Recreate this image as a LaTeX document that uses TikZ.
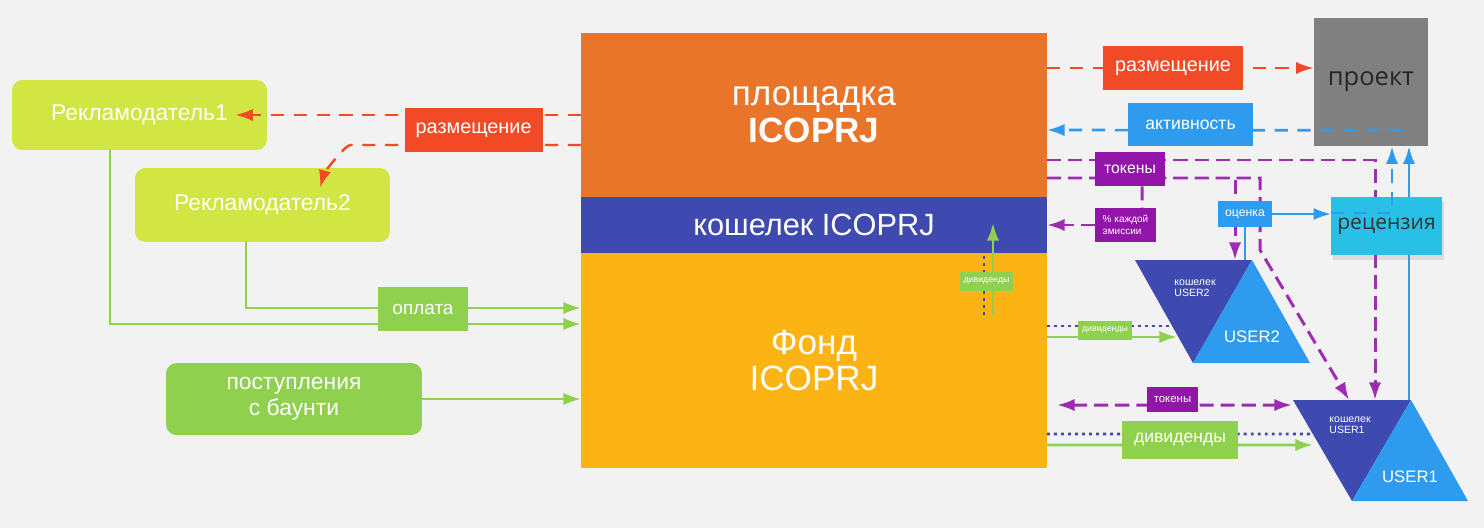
\documentclass[tikz,border=0pt]{standalone}
\usepackage{fontspec}
\setmainfont{Liberation Sans}
\newfontfamily\opensans{Open Sans}
\usepackage{xcolor}
\usepackage{tikz}
\usetikzlibrary{arrows.meta,calc,shadows}

\definecolor{bgc}{HTML}{F2F2F2}
\definecolor{orng}{HTML}{E8752A}
\definecolor{wblue}{HTML}{3F4AB0}
\definecolor{fyel}{HTML}{FCB415}
\definecolor{lime}{HTML}{D1E543}
\definecolor{grn}{HTML}{8FD14F}
\definecolor{redc}{HTML}{F24A27}
\definecolor{ublue}{HTML}{2E9BEE}
\definecolor{purp}{HTML}{9214A8}
\definecolor{cyanc}{HTML}{29C0E8}
\definecolor{grayc}{HTML}{808080}

\begin{document}
\begin{tikzpicture}[x=0.02cm, y=-0.02cm,
  >={Latex[length=10pt,width=7pt]},
  block/.style={rectangle, inner sep=0pt, outer sep=0pt, minimum width=9.32cm, text=white, align=center, font=\fontsize{20}{21}\selectfont},
  client/.style={rectangle, rounded corners=6pt, fill=lime, text=white, minimum width=5.1cm, align=center, font=\fontsize{13}{15}\selectfont},
  lbl/.style={rectangle, inner sep=0pt, text=white, align=center},
  pay/.style={->, line width=1.6pt, draw=grn},
  redline/.style={->, line width=1.4pt, draw=redc, dash pattern=on 7.5pt off 5.5pt},
  bluedash/.style={->, line width=1.5pt, draw=ublue, dash pattern=on 7.5pt off 5.5pt},
  blueline/.style={->, line width=1.5pt, draw=ublue},
  purdash/.style={->, line width=1.7pt, draw=purp!90, dash pattern=on 8pt off 4pt},
  divdot/.style={line width=1.6pt, draw=wblue, dash pattern=on 1.6pt off 2.4pt}
]
\useasboundingbox[fill=bgc] (0,0) rectangle (1484,528);

\node[block, fill=orng, minimum height=3.28cm] (plat) at (814,115) {площадка\\\textbf{ICOPRJ}};
\node[block, fill=wblue, minimum height=1.12cm, font=\fontsize{17.5}{19}\selectfont] (wal) at (814,225) {кошелек ICOPRJ};
\node[block, fill=fyel, minimum height=4.3cm] (fund) at (814,360.5) {Фонд\\ICOPRJ};

\node[client, minimum height=1.4cm] (rek1) at (139.5,115) {Рекламодатель1};
\node[client, minimum height=1.48cm] (rek2) at (262.5,205) {Рекламодатель2};
\node[client, fill=grn, minimum width=5.12cm, minimum height=1.44cm] (bounty) at (294,399) {поступления\\с баунти};

\coordinate (u2) at (1135,260);
\coordinate (u1) at (1293,400);
\fill[wblue] (u2) -- ++(117,0) -- ++(-59,103) -- cycle;
\fill[ublue] ($(u2)+(117,0)$) -- ++(-59,103) -- ++(117,0) -- cycle;
\fill[wblue] (u1) -- ++(118,0) -- ++(-59,101) -- cycle;
\fill[ublue] ($(u1)+(118,0)$) -- ++(-59,101) -- ++(116,0) -- cycle;
\node[lbl, align=left, font=\fontsize{6}{6.5}\selectfont] (w2) at (1195,288) {кошелек\\USER2};
\node[lbl, font=\fontsize{9.5}{10}\selectfont] (n2) at (1252,337) {USER2};
\node[lbl, align=left, font=\fontsize{6}{6.5}\selectfont] (w1) at (1350,425) {кошелек\\USER1};
\node[lbl, font=\fontsize{9.5}{10}\selectfont] (n1) at (1410,477) {USER1};

\draw[pay] ($(rek1.south)+(-29.5,0)$) |- ($(fund.west)+(0,-36.5)$);
\draw[pay] ($(rek2.south)+(-16.5,0)$) |- ($(fund.west)+(0,-52.5)$);
\draw[pay] (bounty.east) -- (bounty.east -| fund.west);

\draw[redline] (plat.west) -- ($(rek1.east)+(-32,0)$);
\draw[redline] ($(plat.west)+(0,30)$) -- ++(-231,0) .. controls +(-7,2) and +(4,-14) .. ($(rek2.north)+(57.5,20)$);

\node[lbl, fill=grn, minimum width=1.8cm, minimum height=0.88cm, font=\fontsize{10.8}{12}\selectfont] (pay) at (423,309) {оплата};
\node[lbl, fill=redc, minimum width=2.76cm, minimum height=0.88cm, font=\fontsize{11.3}{12}\selectfont] (rz1) at (473.6,130) {размещение};

\node[rectangle, fill=grayc, minimum width=2.28cm, minimum height=2.56cm, text=black!85, font=\opensans\fontsize{14.5}{15}\selectfont] (proj) at (1371,82) {проект};
\draw[redline] ($(plat.east)+(0,-47)$) -- ($(proj.west)+(0,-14)$);
\node[lbl, fill=redc, minimum width=2.8cm, minimum height=0.88cm, font=\fontsize{11.3}{12}\selectfont] (rz2) at (1173,68) {размещение};

\draw[bluedash] ($(proj.south)+(31,-16)$) -- ($(plat.east)+(0,15)$);
\node[lbl, fill=ublue, minimum width=2.5cm, minimum height=0.86cm, font=\fontsize{10}{11}\selectfont] (act) at (1190.5,124.5) {активность};

\draw[purdash] ($(plat.east)+(0,45)$) -| ($(u1)+(82,0)$);
\draw[purdash] ($(plat.east)+(0,63)$) -| ($(u2)+(100,0)$);
\draw[purdash] ($(plat.east)+(0,63)$) -| ($(u2)+(125,-10)$) -- ($(u1)+(56,0)$);
\draw[blueline] ($(u1)+(116,0)$) -- ($(proj.south)+(38,0)$);

\node[lbl, fill=purp, minimum width=1.4cm, minimum height=0.68cm, font=\fontsize{9}{10}\selectfont] (tok) at (1130,169) {токены};
\node[lbl, fill=purp, align=left, minimum width=1.22cm, minimum height=0.68cm, font=\fontsize{5.7}{7}\selectfont] (emis) at (1125.5,225) {\% каждой\\эмиссии};
\draw[purdash, -] ($(tok.south)+(12,0)$) -- ($(emis.north)+(16.5,0)$);
\draw[purdash] (emis.west) -- (emis.west -| plat.east);

\node[lbl, fill=ublue, minimum width=1.08cm, minimum height=0.52cm, font=\fontsize{7}{8}\selectfont] (rate) at (1245,214) {оценка};
\draw[blueline, -] (rate.south) -- (rate.south |- u2);
\node[rectangle, fill=cyanc, minimum width=2.14cm, minimum height=1.16cm, text=black!80, font=\opensans\fontsize{12}{13}\selectfont,
  drop shadow={opacity=0.2, shadow xshift=0.04cm, shadow yshift=-0.1cm}] (rec) at (1386.5,226) {рецензия};
\draw[blueline] (rate.east) -- (rate.east -| rec.west);
\draw[bluedash] ($(rec.west)+(0,-13)$) -| ($(proj.south)+(21,0)$);

\draw[divdot] ($(fund.east)+(0,-34.5)$) -- ($(u2)+(37,66)$);
\draw[pay] ($(fund.east)+(0,-23.5)$) -- ($(u2)+(42,77)$);
\node[lbl, fill=grn, minimum width=1.08cm, minimum height=0.38cm, font=\fontsize{5}{6}\selectfont] (divs) at (1105,330.5) {дивиденды};

\draw[purdash, <->] ($(fund.east)+(10,44.5)$) -- ($(u1)+(-1,5)$);
\node[lbl, fill=purp, minimum width=1.02cm, minimum height=0.5cm, font=\fontsize{6.5}{7}\selectfont] (tok2) at (1172.5,399.5) {токены};

\draw[divdot] ($(fund.east)+(0,73.5)$) -- ($(u1)+(22,34)$);
\draw[pay] ($(fund.east)+(0,84.5)$) -- ($(u1)+(20,45)$);
\node[lbl, fill=grn, minimum width=2.32cm, minimum height=0.76cm, font=\fontsize{10}{11}\selectfont] (divb) at (1180,440) {дивиденды};

\draw[divdot] ($(fund.north)+(170,62)$) -- ($(fund.north)+(170,0)$);
\draw[pay] ($(fund.north)+(179,62)$) -- ($(wal.south)+(179,-30)$);
\node[lbl, fill=grn, minimum width=1.06cm, minimum height=0.38cm, font=\fontsize{5}{6}\selectfont] (divf) at (986.5,281.5) {дивиденды};
\end{tikzpicture}
\end{document}
